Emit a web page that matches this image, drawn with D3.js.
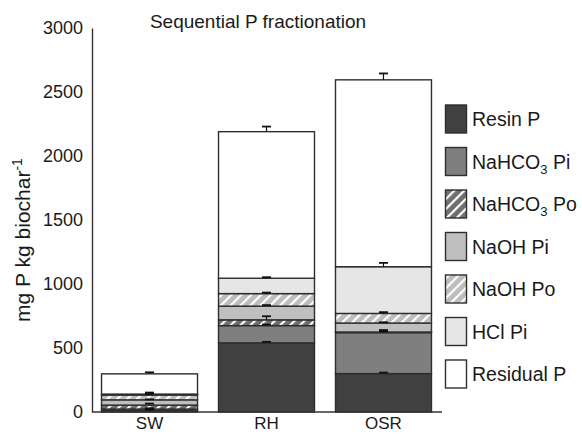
<!DOCTYPE html>
<html><head><meta charset="utf-8">
<script src="https://cdn.jsdelivr.net/npm/d3@7"></script>
<style>body{margin:0;background:#fff}svg text{font-family:"Liberation Sans",Arial,sans-serif;fill:#1a1a1a}</style>
</head><body><svg id="c" width="582" height="434"></svg>
<script>
const categories = ["SW", "RH", "OSR"];
const fractions = ["Resin P", "NaHCO3 Pi", "NaHCO3 Po", "NaOH Pi", "NaOH Po", "HCl Pi", "Residual P"];
const resinP    = [10, 540, 300];
const nahco3Pi  = [13, 135, 320];
const nahco3Po  = [31, 45, 5];
const naohPi    = [41, 107, 70];
const naohPo    = [37, 98, 75];
const hclPi     = [8, 120, 365];
const residualP = [158, 1145, 1460];
const errors = {
  "Resin P":    [8, 8, 8],
  "NaHCO3 Pi":  [6, 8, 20],
  "NaHCO3 Po":  [12, 28, 6],
  "NaOH Pi":    [4, 8, 6],
  "NaOH Po":    [10, 8, 10],
  "HCl Pi":     [12, 8, 30],
  "Residual P": [12, 40, 50]
};
const yTicks = [0, 500, 1000, 1500, 2000, 2500, 3000];

const seriesValues = [resinP, nahco3Pi, nahco3Po, naohPi, naohPo, hclPi, residualP];
const table = categories.map((c, i) => {
  const o = {cat: c};
  fractions.forEach((f, j) => o[f] = seriesValues[j][i]);
  return o;
});

const svg = d3.select("#c");
const defs = svg.append("defs");
function hatch(id, col) {
  const p = defs.append("pattern").attr("id", id).attr("patternUnits", "userSpaceOnUse")
    .attr("width", 7).attr("height", 7).attr("patternTransform", "rotate(45)");
  p.append("rect").attr("width", 7).attr("height", 7).attr("fill", col);
  p.append("rect").attr("x", 0).attr("width", 2.2).attr("height", 7).attr("fill", "#fff");
}
hatch("hDark", "#6e6e6e");
hatch("hLight", "#bdbdbd");
const fills = {
  "Resin P": "#404040", "NaHCO3 Pi": "#7f7f7f", "NaHCO3 Po": "url(#hDark)",
  "NaOH Pi": "#bfbfbf", "NaOH Po": "url(#hLight)", "HCl Pi": "#e6e6e6", "Residual P": "#ffffff"
};

const xs = d3.scaleBand().domain(categories).range([102 - 11, 431 + 11]).paddingInner(21/117).paddingOuter(0.09);
const y = d3.scaleLinear().domain([0, 3000]).range([412, 28]);

const stack = d3.stack().keys(fractions)(table);

const g = svg.append("g");
stack.forEach(layer => {
  g.selectAll(null).data(layer).enter().append("rect")
    .attr("x", d => xs(d.data.cat))
    .attr("width", xs.bandwidth())
    .attr("y", d => y(d[1]))
    .attr("height", d => Math.max(0, y(d[0]) - y(d[1])))
    .attr("fill", fills[layer.key])
    .attr("stroke", "#2e2e2e").attr("stroke-width", 1.4);
});
// error bars (upward)
stack.forEach(layer => {
  layer.forEach((d, i) => {
    const cx = xs(d.data.cat) + xs.bandwidth() / 2;
    const e = errors[layer.key][i];
    const top = y(d[1] + e), bot = y(d[1]);
    g.append("line").attr("x1", cx).attr("x2", cx).attr("y1", top).attr("y2", bot)
      .attr("stroke", "#111").attr("stroke-width", 1.2);
    g.append("line").attr("x1", cx - 4.5).attr("x2", cx + 4.5)
      .attr("y1", top).attr("y2", top).attr("stroke", "#111").attr("stroke-width", 1.8);
  });
});

// axes
const ya = d3.axisLeft(y).tickValues(yTicks).tickFormat(d3.format("d")).tickSize(0).tickPadding(9);
const yg = svg.append("g").attr("transform", "translate(92,0)").call(ya);
yg.select(".domain").attr("stroke", "#333").attr("stroke-width", 1.4);
yg.selectAll("text").attr("font-size", 18).style("fill", "#1a1a1a");
const xa = d3.axisBottom(xs).tickSize(0).tickPadding(5);
const xg = svg.append("g").attr("transform", "translate(0,412)").call(xa);
xg.select(".domain").attr("d", "M92,0H442").attr("stroke", "#333").attr("stroke-width", 1.4);
xg.selectAll("text").attr("font-size", 17).style("fill", "#1a1a1a");

// title
svg.append("text").attr("x", 258).attr("y", 28).attr("text-anchor", "middle")
  .attr("font-size", 19).text("Sequential P fractionation");
// y title
const yt = svg.append("text").attr("transform", "translate(30,240) rotate(-90)")
  .attr("text-anchor", "middle").attr("font-size", 21);
yt.append("tspan").text("mg P kg biochar");
yt.append("tspan").attr("dy", -8).attr("font-size", 14).text("-1");

// legend
const legTop = [105, 148, 190, 232, 275, 318, 360];
const lg = svg.append("g");
fractions.forEach((f, i) => {
  const ty = legTop[0] + i * 42.5;
  lg.append("rect").attr("x", 445.5).attr("y", ty).attr("width", 21).attr("height", 28)
    .attr("fill", fills[f]).attr("stroke", "#2e2e2e").attr("stroke-width", 1.4);
  const t = lg.append("text").attr("x", 472).attr("y", ty + 21).attr("font-size", 19.5);
  const m = f.match(/^(NaHCO)3 (.*)$/);
  if (m) {
    t.append("tspan").text(m[1]);
    t.append("tspan").attr("font-size", 13).attr("dy", 5).text("3");
    t.append("tspan").attr("dy", -5).text(" " + m[2]);
  } else t.text(f);
});
</script></body></html>
